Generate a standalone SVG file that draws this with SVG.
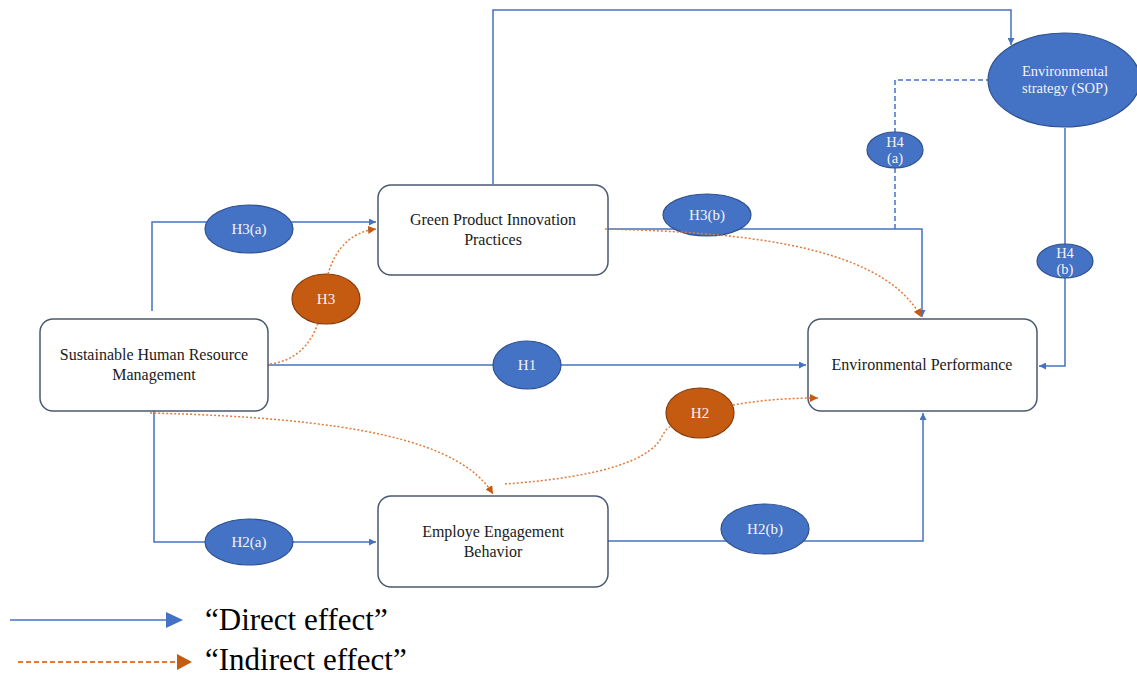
<svg xmlns="http://www.w3.org/2000/svg" width="1137" height="675" viewBox="0 0 1137 675">
<style>
text{font-family:"Liberation Serif","Times New Roman",serif}
.box{fill:#fff;stroke:#4a5a72;stroke-width:1.5}
.bt{font-size:16px;fill:#1a1a1a;text-anchor:middle}
.eb{fill:#4472C4;stroke:#2F528F;stroke-width:1.2}
.eo{fill:#C55A11;stroke:#843C0C;stroke-width:1.2}
.et{font-size:15px;fill:#f4f4f4;text-anchor:middle}
.es{font-size:14.5px;fill:#f4f4f4;text-anchor:middle}
.d{fill:none;stroke:#4472C4;stroke-width:1.5}
.dd{fill:none;stroke:#4472C4;stroke-width:1.5;stroke-dasharray:5 3}
.i{fill:none;stroke:#E07B39;stroke-width:1.5;stroke-dasharray:2 2}
.lt{font-size:31px;fill:#000}
</style>
<defs>
<marker id="ab" viewBox="0 0 10 10" refX="10" refY="5" markerWidth="7" markerHeight="7" markerUnits="userSpaceOnUse" orient="auto"><path d="M0,0L10,5L0,10z" fill="#4472C4"/></marker>
<marker id="ao" viewBox="0 0 10 10" refX="10" refY="5" markerWidth="8" markerHeight="8" markerUnits="userSpaceOnUse" orient="auto"><path d="M0,0L10,5L0,10z" fill="#C55A11"/></marker>
</defs>
<g id="connectors">
<path class="d" d="M152,311V222H376" marker-end="url(#ab)"/>
<path class="d" d="M493,184V10H1011V45" marker-end="url(#ab)"/>
<path class="d" d="M608,229H922V317" marker-end="url(#ab)"/>
<path class="dd" d="M895,229V80H988"/>
<path class="d" d="M268,365H806" marker-end="url(#ab)"/>
<path class="d" d="M1065,128V366H1039" marker-end="url(#ab)"/>
<path class="d" d="M154,411V542H376" marker-end="url(#ab)"/>
<path class="d" d="M608,541H923V413" marker-end="url(#ab)"/>
</g>
<g id="n-shrm"><rect class="box" x="40" y="319" width="228" height="92" rx="13"/><text class="bt" x="154" y="360">Sustainable Human Resource</text><text class="bt" x="154" y="380">Management</text></g>
<g id="n-gpip"><rect class="box" x="378" y="185" width="230" height="90" rx="13"/><text class="bt" x="493" y="225">Green Product Innovation</text><text class="bt" x="493" y="245">Practices</text></g>
<g id="n-ep"><rect class="box" x="808" y="319" width="229" height="92" rx="13"/><text class="bt" x="922" y="370">Environmental Performance</text></g>
<g id="n-eeb"><rect class="box" x="378" y="496" width="230" height="91" rx="13"/><text class="bt" x="493" y="537">Employe Engagement</text><text class="bt" x="493" y="557">Behavior</text></g>
<g id="n-h3a"><ellipse class="eb" cx="249" cy="229" rx="44" ry="24"/><text class="et" x="249" y="234">H3(a)</text></g>
<g id="n-h3b"><ellipse class="eb" cx="707" cy="215" rx="44" ry="21"/><text class="et" x="707" y="220">H3(b)</text></g>
<g id="n-h1"><ellipse class="eb" cx="527" cy="365" rx="34" ry="24"/><text class="et" x="527" y="370">H1</text></g>
<g id="n-h2a"><ellipse class="eb" cx="249" cy="542" rx="44" ry="23"/><text class="et" x="249" y="547">H2(a)</text></g>
<g id="n-h2b"><ellipse class="eb" cx="765" cy="529" rx="44" ry="25"/><text class="et" x="765" y="534">H2(b)</text></g>
<g id="n-h4a"><ellipse class="eb" cx="895" cy="150" rx="28" ry="18"/><text class="es" x="895" y="147">H4</text><text class="es" x="895" y="163">(a)</text></g>
<g id="n-h4b"><ellipse class="eb" cx="1065" cy="261" rx="28" ry="17"/><text class="es" x="1065" y="258">H4</text><text class="es" x="1065" y="274">(b)</text></g>
<g id="n-sop"><ellipse class="eb" cx="1064" cy="80" rx="76" ry="47"/><text class="es" x="1065" y="76">Environmental</text><text class="es" x="1065" y="93">strategy (SOP)</text></g>
<g id="n-h3"><ellipse class="eo" cx="326" cy="299" rx="34" ry="25"/><text class="et" x="326" y="304">H3</text></g>
<g id="n-h2"><ellipse class="eo" cx="700" cy="413" rx="34" ry="25"/><text class="et" x="700" y="418">H2</text></g>
<g id="indirect">
<path class="i" d="M270,364C300,360 312,340 318,323"/>
<path class="i" d="M328,274C335,250 350,232 376,229" marker-end="url(#ao)"/>
<path class="i" d="M605,229C720,232 880,240 921,317" marker-end="url(#ao)"/>
<path class="i" d="M150,413C350,418 460,440 493,494" marker-end="url(#ao)"/>
<path class="i" d="M505,484C560,480 640,470 660,440C664,432 667,428 670,427"/>
<path class="i" d="M733,405C760,400 790,398 818,398" marker-end="url(#ao)"/>
</g>
<g id="legend">
<path class="d" d="M10,620H168"/>
<path d="M166,612L183,620L166,628z" fill="#4472C4"/>
<path d="M18,662H177" fill="none" stroke="#E07B39" stroke-width="2" stroke-dasharray="5 3"/>
<path d="M177,654L192,662L177,670z" fill="#C55A11"/>
<text class="lt" x="205" y="630">“Direct effect”</text>
<text class="lt" x="205" y="670">“Indirect effect”</text>
</g>
</svg>
